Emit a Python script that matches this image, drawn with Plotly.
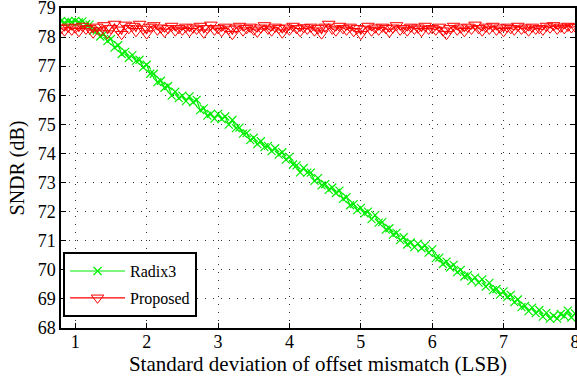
import plotly.graph_objects as go

x_vals = [round(0.80 + 0.05 * i, 2) for i in range(145)]

radix3 = [
    78.55, 78.50, 78.54, 78.52, 78.56, 78.51, 78.54, 78.44, 78.43, 78.22,
    78.22, 78.02, 78.10, 77.86, 77.94, 77.64, 77.72, 77.42, 77.49, 77.28,
    77.38, 77.18, 77.22, 76.96, 77.05, 76.74, 76.74, 76.45, 76.50, 76.26,
    76.32, 75.99, 76.12, 75.90, 75.99, 75.80, 75.96, 75.76, 75.84, 75.49,
    75.55, 75.30, 75.36, 75.20, 75.36, 75.18, 75.27, 74.99, 75.15, 74.87,
    74.89, 74.68, 74.70, 74.46, 74.54, 74.32, 74.42, 74.22, 74.26, 74.08,
    74.18, 73.96, 74.04, 73.79, 73.88, 73.62, 73.59, 73.35, 73.50, 73.34,
    73.34, 73.06, 73.15, 72.90, 72.94, 72.75, 72.83, 72.64, 72.72, 72.44,
    72.50, 72.22, 72.26, 72.05, 72.13, 71.94, 72.00, 71.74, 71.88, 71.62,
    71.64, 71.38, 71.43, 71.21, 71.27, 71.02, 71.12, 70.87, 70.94, 70.78,
    70.90, 70.74, 70.84, 70.59, 70.70, 70.40, 70.42, 70.20, 70.28, 70.08,
    70.17, 69.92, 70.00, 69.77, 69.82, 69.62, 69.73, 69.56, 69.67, 69.42,
    69.55, 69.30, 69.34, 69.15, 69.26, 69.06, 69.14, 68.89, 68.98, 68.72,
    68.76, 68.58, 68.70, 68.51, 68.62, 68.39, 68.52, 68.32, 68.42, 68.32,
    68.48, 68.41, 68.60, 68.36, 68.50,
]

proposed = [
    78.30, 78.22, 78.35, 78.25, 78.32, 78.20, 78.38, 78.28, 78.30, 78.15,
    78.35, 78.22, 78.40, 78.12, 78.30, 78.45, 78.25, 78.10, 78.42, 78.30,
    78.38, 78.20, 78.45, 78.28, 78.12, 78.35, 78.40, 78.25, 78.32, 78.18,
    78.30, 78.38, 78.22, 78.30, 78.25, 78.35, 78.20, 78.32, 78.28, 78.38,
    78.15, 78.30, 78.42, 78.25, 78.30, 78.20, 78.35, 78.28, 78.10, 78.32,
    78.38, 78.22, 78.30, 78.35, 78.25, 78.18, 78.32, 78.40, 78.28, 78.22,
    78.35, 78.30, 78.15, 78.32, 78.25, 78.38, 78.30, 78.20, 78.33, 78.28,
    78.35, 78.22, 78.30, 78.12, 78.35, 78.45, 78.28, 78.22, 78.38, 78.30,
    78.25, 78.35, 78.20, 78.30, 78.10, 78.28, 78.38, 78.22, 78.32, 78.25,
    78.35, 78.30, 78.18, 78.32, 78.40, 78.25, 78.30, 78.22, 78.35, 78.28,
    78.32, 78.20, 78.38, 78.28, 78.30, 78.25, 78.35, 78.22, 78.10, 78.30,
    78.38, 78.25, 78.32, 78.20, 78.35, 78.28, 78.42, 78.30, 78.22, 78.35,
    78.28, 78.38, 78.25, 78.32, 78.20, 78.35, 78.30, 78.25, 78.38, 78.28,
    78.32, 78.22, 78.35, 78.28, 78.30, 78.25, 78.38, 78.32, 78.40, 78.28,
    78.35, 78.30, 78.38, 78.33, 78.36,
]

x_ticks = [1, 2, 3, 4, 5, 6, 7, 8]
y_ticks = [68, 69, 70, 71, 72, 73, 74, 75, 76, 77, 78, 79]

FONT = "Liberation Serif"

fig = go.Figure()
fig.add_trace(go.Scatter(
    x=x_vals, y=radix3, name="Radix3", mode="lines+markers", legendgroup="a",
    line=dict(color="#00ee00", width=1.2),
    marker=dict(symbol="x-thin", size=8, line=dict(color="#00ee00", width=1.2)),
))
fig.add_trace(go.Scatter(
    x=x_vals, y=proposed, name="Proposed", mode="lines+markers", legendgroup="b",
    line=dict(color="#ff0000", width=1.2),
    marker=dict(symbol="triangle-down-open", size=11, color="#ff0000",
                line=dict(color="#ff0000", width=1)),
))

axis_common = dict(
    showline=True, linecolor="black", linewidth=1.5, mirror="ticks",
    ticks="inside", ticklen=5, tickcolor="black",
    showgrid=True, gridcolor="#333333", gridwidth=1, griddash="1px,7px",
    zeroline=False, tickfont=dict(family=FONT, size=18, color="black"),
    ticklabeloverflow="allow",
)

fig.update_xaxes(range=[0.8, 8], tickvals=x_ticks, ticklabelstandoff=-3,
                 title=dict(text="Standard deviation of offset mismatch (LSB)",
                            font=dict(family=FONT, size=21, color="black"), standoff=0),
                 **axis_common)
fig.update_yaxes(range=[68, 79], tickvals=y_ticks,
                 title=dict(text="SNDR (dB)",
                            font=dict(family=FONT, size=20, color="black"), standoff=8),
                 **axis_common)

fig.update_layout(
    width=577, height=377,
    margin=dict(l=61, r=2, t=8, b=49, autoexpand=False),
    plot_bgcolor="white", paper_bgcolor="white",
    font=dict(family=FONT, color="black"),
    legend=dict(x=0.004, y=0.034, xanchor="left", yanchor="bottom",
                bgcolor="white", bordercolor="black", borderwidth=2,
                font=dict(family=FONT, size=16, color="black"),
                itemwidth=55, tracegroupgap=3),
)

fig.write_html("out.html", config={"displayModeBar": False},
               post_script="document.body.style.margin='0';")
